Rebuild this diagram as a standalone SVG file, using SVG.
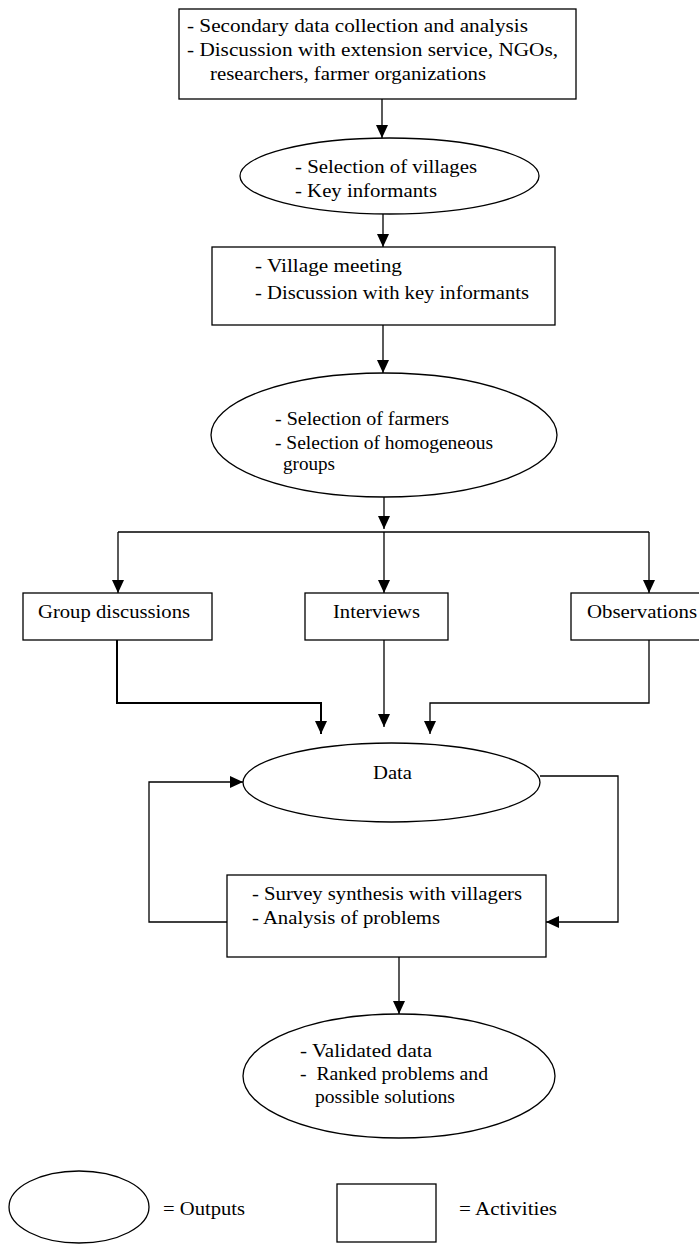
<svg xmlns="http://www.w3.org/2000/svg" width="699" height="1245" viewBox="0 0 699 1245">
<defs>
<marker id="ah" markerUnits="userSpaceOnUse" markerWidth="13" markerHeight="12" refX="13" refY="6" orient="auto">
<path d="M0,0 L13,6 L0,12 z" fill="#000"/>
</marker>
</defs>
<style>
.n{fill:#fff;stroke:#000;stroke-width:1.3}
.t{font-family:"Liberation Serif","Times New Roman",serif;font-size:19px;fill:#000}
.c{fill:none;stroke:#000;stroke-width:1.3}
.a{marker-end:url(#ah)}
</style>
<rect width="699" height="1245" fill="#fff"/>
<g id="connectors">
<path class="c a" d="M382,99 V138"/>
<path class="c a" d="M383,214 V247"/>
<path class="c a" d="M383,325 V373"/>
<path class="c a" d="M384,497 V529"/>
<path class="c" d="M118,532 H649"/>
<path class="c a" d="M118,532 V593"/>
<path class="c a" d="M384,532 V593"/>
<path class="c a" d="M649,532 V593"/>
<path class="c a" d="M117,640 V703 H321 V734" style="stroke-width:2"/>
<path class="c a" d="M384,640 V727"/>
<path class="c a" d="M649,640 V703 H430 V734"/>
<path class="c a" d="M227,922 H149 V782 H243"/>
<path class="c a" d="M540,776 H618 V922 H546"/>
<path class="c a" d="M399,957 V1014"/>
</g>
<g id="n1">
<rect class="n" x="179" y="9" width="397" height="90"/>
<text class="t" x="187" y="32" textLength="341" lengthAdjust="spacingAndGlyphs">- Secondary data collection and analysis</text>
<text class="t" x="187" y="56" textLength="371" lengthAdjust="spacingAndGlyphs">- Discussion with extension service, NGOs,</text>
<text class="t" x="210" y="80" textLength="276" lengthAdjust="spacingAndGlyphs">researchers, farmer organizations</text>
</g>
<g id="n2">
<ellipse class="n" cx="389.5" cy="176" rx="149.5" ry="38"/>
<text class="t" x="295" y="173" textLength="182" lengthAdjust="spacingAndGlyphs">- Selection of villages</text>
<text class="t" x="295" y="197" textLength="142" lengthAdjust="spacingAndGlyphs">- Key informants</text>
</g>
<g id="n3">
<rect class="n" x="212" y="247" width="343" height="78"/>
<text class="t" x="255" y="272" textLength="147" lengthAdjust="spacingAndGlyphs">- Village meeting</text>
<text class="t" x="255" y="299" textLength="274" lengthAdjust="spacingAndGlyphs">- Discussion with key informants</text>
</g>
<g id="n4">
<ellipse class="n" cx="384" cy="435" rx="173" ry="62"/>
<text class="t" x="275" y="425" textLength="174" lengthAdjust="spacingAndGlyphs">- Selection of farmers</text>
<text class="t" x="275" y="449" textLength="218" lengthAdjust="spacingAndGlyphs">- Selection of homogeneous</text>
<text class="t" x="283" y="470" textLength="52" lengthAdjust="spacingAndGlyphs">groups</text>
</g>
<g id="n5">
<rect class="n" x="23" y="593" width="189" height="47"/>
<text class="t" x="38" y="618" textLength="152" lengthAdjust="spacingAndGlyphs">Group discussions</text>
</g>
<g id="n6">
<rect class="n" x="305" y="593" width="143" height="47"/>
<text class="t" x="333" y="618" textLength="87" lengthAdjust="spacingAndGlyphs">Interviews</text>
</g>
<g id="n7">
<rect class="n" x="571" y="593" width="140" height="47"/>
<text class="t" x="587" y="618" textLength="110" lengthAdjust="spacingAndGlyphs">Observations</text>
</g>
<g id="n8">
<ellipse class="n" cx="391.5" cy="782.5" rx="148.5" ry="39.5"/>
<text class="t" x="373" y="779" textLength="39" lengthAdjust="spacingAndGlyphs">Data</text>
</g>
<g id="n9">
<rect class="n" x="227" y="875" width="319" height="82"/>
<text class="t" x="252" y="900" textLength="270" lengthAdjust="spacingAndGlyphs">- Survey synthesis with villagers</text>
<text class="t" x="252" y="924" textLength="188" lengthAdjust="spacingAndGlyphs">- Analysis of problems</text>
</g>
<g id="n10">
<ellipse class="n" cx="399" cy="1076" rx="156" ry="62"/>
<text class="t" x="300" y="1057" textLength="132" lengthAdjust="spacingAndGlyphs">- Validated data</text>
<text class="t" x="300" y="1080" textLength="188" lengthAdjust="spacingAndGlyphs" xml:space="preserve">-  Ranked problems and</text>
<text class="t" x="315" y="1103" textLength="140" lengthAdjust="spacingAndGlyphs">possible solutions</text>
</g>
<g id="legend">
<ellipse class="n" cx="79" cy="1207" rx="70" ry="36"/>
<text class="t" x="163" y="1215" textLength="82" lengthAdjust="spacingAndGlyphs">= Outputs</text>
<rect class="n" x="337" y="1184" width="99" height="58"/>
<text class="t" x="459" y="1215" textLength="98" lengthAdjust="spacingAndGlyphs">= Activities</text>
</g>
</svg>
